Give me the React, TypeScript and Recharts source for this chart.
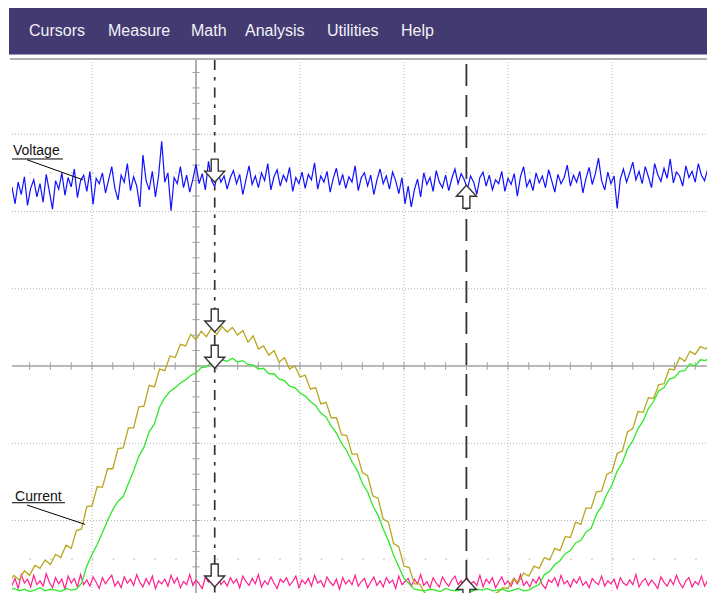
import React from 'react'
import { LineChart, Line, XAxis, YAxis, ReferenceLine, ReferenceDot } from 'recharts'

// time in screen divisions (0 = centre axis), amplitude in 1/100 division
const T_START = -1.8
const NOISE_STEP = 0.03
const CURRENT_STEP = 0.05

const voltage = [
  215, 232, 210, 238, 222, 245, 208, 230, 241, 219,
  236, 212, 248, 226, 203, 240, 229, 250, 221, 244,
  232, 255, 218, 240, 247, 226, 252, 209, 243, 236,
  250, 224, 241, 258, 230, 215, 247, 238, 262, 227,
  245, 233, 206, 273, 240, 228, 252, 219, 246, 291,
  238, 250, 201, 244, 236, 258, 231, 247, 225, 242,
  261, 236, 249, 228, 265, 240, 232, 251, 238, 246,
  229, 244, 253, 236, 248, 222, 241, 259, 235, 246,
  231, 250, 240, 262, 228, 245, 254, 233, 247, 239,
  257, 226, 244, 236, 251, 230, 248, 241, 263, 229,
  246, 238, 252, 225, 243, 256, 234, 248, 230, 245,
  238, 259, 227, 244, 250, 233, 247, 222, 241, 255,
  236, 246, 229, 251, 240, 223, 244, 210, 233, 206,
  228, 242, 219, 250, 235, 244, 226, 253, 238, 231,
  247, 227, 243, 255, 236, 249, 241, 229, 246, 238,
  222, 244, 251, 233, 247, 228, 241, 236, 252, 226,
  243, 235, 249, 220, 245, 258, 232, 241, 227, 250,
  237, 246, 231, 254, 240, 225, 248, 236, 244, 260,
  233, 247, 238, 252, 224, 243, 257, 235, 249, 269,
  240, 228, 251, 236, 246, 204, 242, 255, 238, 250,
  264, 241, 252, 236, 258, 245, 231, 262, 248, 239,
  256, 243, 268, 237, 251, 246, 233, 259, 244, 252,
  238, 262, 247, 240, 255, 243,
]

const offsetTrace = [
  -272, -284, -275, -288, -270, -281, -276, -286, -271, -283,
  -278, -285, -269, -280, -287, -274, -282, -276, -289, -272,
  -281, -275, -286, -270, -283, -277, -285, -273, -280, -288,
  -274, -282, -276, -271, -285, -279, -287, -273, -281, -276,
  -284, -270, -280, -286, -275, -283, -272, -288, -278, -282,
  -276, -285, -271, -281, -274, -287, -279, -283, -270, -284,
  -277, -282, -288, -273, -280, -275, -286, -271, -283, -278,
  -285, -274, -281, -276, -287, -272, -279, -284, -275, -282,
  -270, -286, -278, -283, -273, -281, -288, -276, -280, -274,
  -284, -279, -272, -287, -277, -282, -275, -285, -271, -281,
  -278, -286, -273, -280, -284, -276, -289, -274, -282, -277,
  -283, -271, -285, -279, -275, -287, -280, -273, -284, -278,
  -286, -274, -281, -277, -288, -272, -283, -279, -275, -285,
  -276, -282, -270, -284, -279, -287, -274, -281, -286, -273,
  -280, -285, -277, -272, -283, -278, -288, -275, -282, -279,
  -284, -271, -286, -276, -281, -274, -287, -280, -273, -283,
  -278, -285, -275, -282, -270, -284, -279, -286, -276, -281,
  -273, -283, -288, -277, -280, -274, -285, -271, -282, -278,
  -286, -276, -281, -273, -284, -279, -287, -275, -280, -283,
  -272, -285, -278, -282, -276, -288, -274, -281, -284, -277,
  -283, -270, -286, -279, -275, -284, -277, -282, -288, -273,
  -280, -285, -276, -283, -271, -281, -287, -278, -274, -286,
  -279, -283, -272, -285, -277, -282,
]

const currentOlive = [
  -280, -271, -277, -265, -271, -258, -262, -251, -257, -244,
  -248, -232, -236, -213, -211, -182, -181, -156, -157, -133,
  -133, -107, -106, -80, -80, -53, -52, -25, -27, -4,
  -6, 13, 11, 28, 26, 41, 34, 45, 38, 49,
  41, 51, 44, 50, 40, 46, 31, 39, 22, 26,
  14, 20, 5, 11, -4, 0, -14, -12, -30, -28,
  -49, -47, -67, -67, -89, -90, -114, -114, -138, -142,
  -168, -171, -198, -202, -230, -234, -259, -261, -282, -282,
  -294, -296, -298, -297, -299, -298, -297, -299, -298, -296,
  -298, -297, -299, -296, -293, -287, -288, -276, -280, -268,
  -272, -259, -262, -248, -251, -236, -239, -221, -222, -202,
  -205, -184, -184, -163, -162, -140, -137, -113, -110, -85,
  -81, -59, -60, -41, -42, -24, -23, -4, -5, 11,
  6, 19, 15, 25, 22, 30,
]

const currentGreen = [
  -290, -288, -291, -289, -292, -290, -287, -291, -289, -290,
  -292, -288, -290, -289, -281, -259, -244, -231, -216, -200,
  -186, -175, -169, -152, -136, -117, -105, -85, -75, -53,
  -41, -33, -28, -22, -18, -12, -9, -2, -1, 5,
  4, 8, 6, 10, 5, 7, 2, 1, -4, -3,
  -10, -10, -17, -19, -26, -28, -35, -39, -46, -51,
  -61, -66, -78, -87, -100, -110, -124, -135, -152, -163,
  -181, -193, -211, -226, -245, -260, -275, -282, -289, -290,
  -291, -289, -290, -292, -288, -290, -291, -289, -290, -292,
  -289, -290, -288, -291, -290, -289, -292, -290, -288, -291,
  -290, -286, -283, -270, -266, -257, -252, -243, -239, -229,
  -226, -215, -210, -192, -182, -166, -154, -136, -125, -107,
  -97, -81, -71, -55, -46, -32, -28, -17, -15, -7,
  -6, 3, 0, 8, 7, 13,
]

const menuItems = ['Cursors', 'Measure', 'Math', 'Analysis', 'Utilities', 'Help']
const menuLeft = [20, 99, 182, 236, 318, 392]

const gridX = [-5, -4, -3, -2, -1, 1, 2, 3, 4, 5]
const gridY = [-400, -300, -200, -100, 100, 200, 300, 400]

const cursorA = 0.18
const cursorB = 2.6
const downMarks = [238, 44, -3, -286]
const upMarks = [234, -275]

const toSeries = (vals: number[], step: number) =>
  vals.map((v, i) => ({ t: +(T_START + i * step).toFixed(3), v }))

const voltageData = toSeries(voltage, NOISE_STEP)
const offsetData = toSeries(offsetTrace, NOISE_STEP)
const oliveData = toSeries(currentOlive, CURRENT_STEP)
const greenData = toSeries(currentGreen, CURRENT_STEP)

const xMinor = Array.from({ length: 51 }, (_, i) => +(-5 + i * 0.2).toFixed(2))
const yMinor = Array.from({ length: 41 }, (_, i) => -400 + i * 20)

const FONT = '"Liberation Sans", Arial, sans-serif'

const DownArrow = ({ cx, cy }: any) => (
  <path
    d={`M${cx - 3.5},${cy - 23} h7 v12 h6.5 L${cx},${cy} L${cx - 10},${cy - 11} h6.5 Z`}
    fill="#fff"
    stroke="#333"
    strokeWidth={1.4}
  />
)

const UpArrow = ({ cx, cy }: any) => (
  <path
    d={`M${cx - 3.5},${cy + 23} h7 v-12 h6.5 L${cx},${cy} L${cx - 10},${cy + 11} h6.5 Z`}
    fill="#fff"
    stroke="#333"
    strokeWidth={1.4}
  />
)

const textShape = (label: string) => ({ cx, cy }: any) => (
  <text x={cx} y={cy} fontSize={14} fontFamily={FONT} fill="#111">
    {label}
  </text>
)

export default function App() {
  return (
    <div
      style={{
        position: 'absolute',
        left: 0,
        top: 0,
        width: 707,
        height: 593,
        background: '#fff',
        overflow: 'hidden',
        fontFamily: FONT,
      }}
    >
      {/* menu bar */}
      <div
        style={{
          position: 'absolute',
          left: 9,
          top: 8,
          width: 698,
          height: 46,
          background: '#433a72',
          borderBottom: '1px solid #9f99c4',
        }}
      >
        {menuItems.map((m, i) => (
          <span
            key={m}
            style={{
              position: 'absolute',
              left: menuLeft[i],
              top: 14,
              lineHeight: '18px',
              fontSize: 16,
              color: '#f2f2f7',
            }}
          >
            {m}
          </span>
        ))}
      </div>
      <div
        style={{ position: 'absolute', left: 10, top: 58, width: 697, height: 2, background: '#b0b0b0' }}
      />

      {/* plot area */}
      <div style={{ position: 'absolute', left: 12, top: 58, width: 695, height: 535, overflow: 'hidden' }}>
        <div style={{ position: 'absolute', left: -336, top: -1 }}>
          <LineChart width={1040} height={618} margin={{ top: 0, right: 0, bottom: 0, left: 0 }}>
            <XAxis type="number" dataKey="t" domain={[-5, 5]} hide allowDataOverflow />
            <YAxis type="number" domain={[-400, 400]} hide allowDataOverflow />

            {gridX.map((x) => (
              <ReferenceLine key={'gx' + x} x={x} stroke="#b4b4b4" strokeDasharray="1 2" />
            ))}
            {gridY.map((y) => (
              <ReferenceLine key={'gy' + y} y={y} stroke="#b4b4b4" strokeDasharray="1 2" />
            ))}
            <ReferenceLine y={250} stroke="#a8a8a8" strokeDasharray="1.5 19.3" />
            <ReferenceLine y={-250} stroke="#a8a8a8" strokeDasharray="1.5 19.3" />

            <ReferenceLine x={0} stroke="#b0b0b0" strokeWidth={2} />
            <ReferenceLine y={0} stroke="#a0a0a0" strokeWidth={1.5} />
            {xMinor.map((x) => (
              <ReferenceLine
                key={'tx' + x}
                segment={[{ x, y: -5 }, { x, y: 5 }]}
                stroke="#a0a0a0"
              />
            ))}
            {yMinor.map((y) => (
              <ReferenceLine
                key={'ty' + y}
                segment={[{ x: -0.035, y }, { x: 0.035, y }]}
                stroke="#a0a0a0"
              />
            ))}

            <Line data={offsetData} dataKey="v" type="linear" stroke="#ff1f8e" strokeWidth={1.2} dot={false} isAnimationActive={false} />
            <Line data={oliveData} dataKey="v" type="linear" stroke="#b8a61e" strokeWidth={1.3} dot={false} isAnimationActive={false} />
            <Line data={greenData} dataKey="v" type="linear" stroke="#2ee82a" strokeWidth={1.3} dot={false} isAnimationActive={false} />
            <Line data={voltageData} dataKey="v" type="linear" stroke="#1010ff" strokeWidth={1.2} dot={false} isAnimationActive={false} />

            <ReferenceLine x={cursorA} stroke="#333" strokeWidth={1.7} strokeDasharray="10 7 3.5 7" />
            <ReferenceLine x={cursorB} stroke="#333" strokeWidth={1.8} strokeDasharray="22 9" />

            {/* trace labels */}
            <ReferenceLine segment={[{ x: -1.77, y: 268 }, { x: -1.28, y: 268 }]} stroke="#000" />
            <ReferenceLine segment={[{ x: -1.625, y: 267 }, { x: -1.087, y: 241 }]} stroke="#000" />
            <ReferenceLine segment={[{ x: -1.77, y: -177 }, { x: -1.26, y: -177 }]} stroke="#000" />
            <ReferenceLine segment={[{ x: -1.625, y: -180 }, { x: -1.067, y: -205 }]} stroke="#000" />
            <ReferenceDot x={-1.76} y={273} r={0} shape={textShape('Voltage')} />
            <ReferenceDot x={-1.74} y={-175} r={0} shape={textShape('Current')} />

            {downMarks.map((y) => (
              <ReferenceDot key={'d' + y} x={cursorA} y={y} r={0} shape={DownArrow} />
            ))}
            {upMarks.map((y) => (
              <ReferenceDot key={'u' + y} x={cursorB} y={y} r={0} shape={UpArrow} />
            ))}
          </LineChart>
        </div>
      </div>
    </div>
  )
}
